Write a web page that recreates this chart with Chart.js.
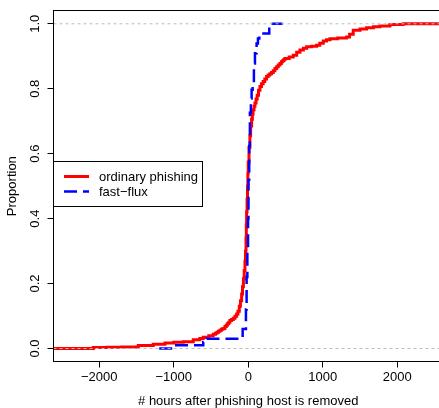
<!DOCTYPE html>
<html><head><meta charset="utf-8">
<script src="https://cdn.jsdelivr.net/npm/chart.js@4.4.0/dist/chart.umd.min.js"></script>
<style>html,body{margin:0;padding:0;background:#fff;overflow:hidden;width:439px;height:408px}canvas{display:block}</style>
</head><body><canvas id="c" width="447" height="408" style="width:447px;height:408px"></canvas>
<script>
// ---- data ----
const X_MIN = -2614, X_MAX = 2614, Y_MIN = -0.04, Y_MAX = 1.04;
const xTicks = [-2000, -1000, 0, 1000, 2000];
const yTicks = [0, 0.2, 0.4, 0.6, 0.8, 1.0];
const seriesNames = ['ordinary phishing', 'fast\u2212flux'];
const xTitle = '# hours after phishing host is removed';
const yTitle = 'Proportion';

const ordinaryX = [-2614, -2080, -1900, -1700, -1476, -1275, -1118, -1000, -872, -738, -650, -604, -530, -470, -440, -420, -400, -380, -360, -340, -313, -295, -280, -262, -246, -225, -200, -178, -156, -138, -120, -105, -89, -77, -65, -54, -44, -37, -30, -26, -22, -16, -10, -5, 0, 10, 22, 32, 45, 55, 65, 78, 90, 105, 120, 138, 157, 178, 200, 222, 246, 268, 290, 312, 336, 358, 381, 403, 425, 445, 460, 478, 493, 550, 604, 650, 694, 740, 784, 850, 918, 960, 1007, 1050, 1097, 1200, 1320, 1360, 1409, 1500, 1588, 1680, 1767, 1902, 2080, 2614];
const ordinaryY = [0, 0.003, 0.004, 0.005, 0.009, 0.013, 0.017, 0.019, 0.021, 0.027, 0.031, 0.035, 0.039, 0.044, 0.047, 0.050, 0.053, 0.056, 0.059, 0.062, 0.068, 0.072, 0.076, 0.081, 0.086, 0.089, 0.093, 0.099, 0.106, 0.115, 0.130, 0.147, 0.168, 0.19, 0.215, 0.24, 0.269, 0.30, 0.34, 0.38, 0.421, 0.46, 0.50, 0.54, 0.574, 0.62, 0.655, 0.685, 0.706, 0.722, 0.735, 0.746, 0.756, 0.768, 0.78, 0.795, 0.807, 0.815, 0.822, 0.83, 0.838, 0.842, 0.846, 0.85, 0.855, 0.862, 0.868, 0.873, 0.878, 0.883, 0.886, 0.89, 0.893, 0.898, 0.903, 0.912, 0.919, 0.925, 0.929, 0.931, 0.934, 0.94, 0.947, 0.951, 0.954, 0.956, 0.959, 0.968, 0.98, 0.984, 0.988, 0.991, 0.993, 0.998, 1.0, 1.0];

const fastFluxX = [-1195, -1007, -604, -558, -75, -31, -22, -12, -3, 3, 13, 22, 35, 45, 59, 76, 90, 112, 130, 148, 282, 462];
const fastFluxY = [0, 0.01, 0.02, 0.03, 0.06, 0.12, 0.22, 0.30, 0.40, 0.52, 0.624, 0.726, 0.77, 0.797, 0.817, 0.878, 0.909, 0.939, 0.955, 0.97, 1.0, 1.0];

const refLevels = [0, 1];

// ---- chart ----
const FONT = "'Liberation Sans', Arial, Helvetica, sans-serif";
Chart.defaults.font.family = FONT;
Chart.defaults.font.size = 13;
Chart.defaults.color = '#000';

const toPts = (xs, ys) => xs.map((x, i) => ({x: x, y: ys[i]}));
const RED = '#FF0000', BLUE = '#0000FF', GRAY = '#BEBEBE';

const refSets = refLevels.map(v => ({
  data: [{x: X_MIN, y: v}, {x: X_MAX, y: v}],
  borderColor: GRAY, borderWidth: 1, borderDash: [3, 3], pointRadius: 0, fill: false, order: 1
}));

const framePlugin = {
  id: 'frameLegend',
  afterDraw(chart) {
    const {ctx, chartArea: a} = chart;
    const al = v => Math.floor(v) + 0.5;
    ctx.save();
    ctx.strokeStyle = '#000'; ctx.lineWidth = 1; ctx.setLineDash([]);
    ctx.strokeRect(al(a.left), al(a.top), al(a.right) - al(a.left), al(a.bottom) - al(a.top));
    // legend
    const lx = al(a.left), ly = 161.5, lw = 149, lh = 45;
    ctx.strokeRect(lx, ly, lw, lh);
    const rows = [{c: RED, w: 3, d: []}, {c: BLUE, w: 2.5, d: [13, 6]}];
    ctx.font = '13px ' + FONT; ctx.textBaseline = 'middle'; ctx.fillStyle = '#000';
    rows.forEach((r, i) => {
      const y = 176.5 + i * 15;
      ctx.beginPath(); ctx.strokeStyle = r.c; ctx.lineWidth = r.w; ctx.setLineDash(r.d);
      ctx.moveTo(64, y); ctx.lineTo(89, y); ctx.stroke();
      ctx.fillText(seriesNames[i], 99, y + 0.5);
    });
    ctx.restore();
  }
};

new Chart(document.getElementById('c'), {
  type: 'line',
  data: {
    datasets: [
      ...refSets,
      {label: seriesNames[1], data: toPts(fastFluxX, fastFluxY), borderColor: BLUE, borderWidth: 2.5, borderDash: [13, 6], stepped: true, pointRadius: 0, fill: false, order: 2},
      {label: seriesNames[0], data: toPts(ordinaryX, ordinaryY), borderColor: RED, borderWidth: 3, stepped: true, pointRadius: 0, fill: false, order: 3}
    ]
  },
  options: {
    responsive: false, animation: false,
    layout: {padding: {left: 0, top: 6, right: 4, bottom: 0}},
    plugins: {legend: {display: false}, tooltip: {enabled: false}},
    scales: {
      x: {
        type: 'linear', min: X_MIN, max: X_MAX,
        afterBuildTicks: s => { s.ticks = xTicks.map(v => ({value: v})); },
        afterFit: s => { s.height = 46.5; },
        grid: {drawOnChartArea: false, drawTicks: true, tickLength: 6, color: '#000', tickColor: '#000'},
        border: {display: false},
        ticks: {autoSkip: false, maxRotation: 0, minRotation: 0, padding: 2, font: {size: 13},
          callback: v => (v < 0 ? '\u2212' + Math.abs(v) : String(v))},
        title: {display: true, text: xTitle, font: {size: 13, lineHeight: 1}, padding: {top: 0, bottom: 0}}
      },
      y: {
        type: 'linear', min: Y_MIN, max: Y_MAX,
        afterBuildTicks: s => { s.ticks = yTicks.map(v => ({value: v})); },
        afterFit: s => { s.width = 53.5; },
        grid: {drawOnChartArea: false, drawTicks: true, tickLength: 6, color: '#000', tickColor: '#000'},
        border: {display: false},
        ticks: {autoSkip: false, minRotation: 90, maxRotation: 90, crossAlign: 'center', padding: 3, font: {size: 13},
          callback: v => v.toFixed(1)},
        title: {display: true, text: yTitle, font: {size: 13, lineHeight: 1}, padding: {top: 6, bottom: 0}}
      }
    }
  },
  plugins: [framePlugin]
});
</script>
</body></html>
